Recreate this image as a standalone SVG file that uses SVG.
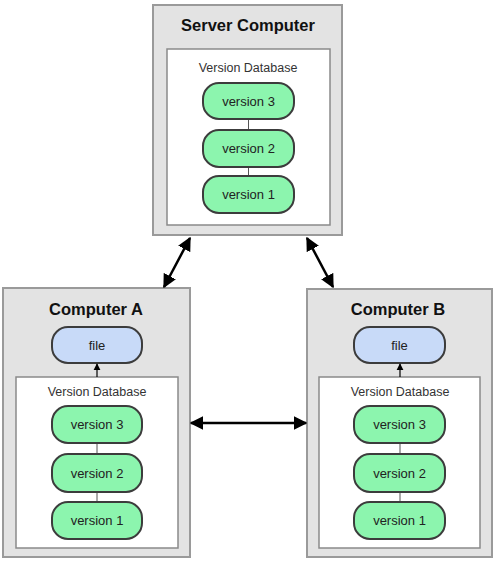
<svg xmlns="http://www.w3.org/2000/svg" width="497" height="564" viewBox="0 0 497 564">
<defs>
<marker id="ah" viewBox="0 0 10 10" refX="9" refY="5" markerWidth="5.5" markerHeight="5.5" orient="auto-start-reverse" markerUnits="strokeWidth">
<path d="M0,0 L10,5 L0,10 z" fill="#000"/>
</marker>
<marker id="ahs" viewBox="0 0 10 10" refX="9" refY="5" markerWidth="6" markerHeight="6" orient="auto" markerUnits="strokeWidth">
<path d="M0,0 L10,5 L0,10 z" fill="#000"/>
</marker>
<style>
.outer{fill:#e3e3e3;stroke:#9a9a9a;stroke-width:2}
.inner{fill:#fff;stroke:#8a8a8a;stroke-width:1.5}
.ver{fill:#8cf5ae;stroke:#3c3c3c;stroke-width:2}
.file{fill:#c8daf8;stroke:#3c3c3c;stroke-width:2}
.title{font-family:"Liberation Sans",Arial,sans-serif;font-weight:bold;font-size:16.5px;fill:#111;text-anchor:middle}
.db{font-family:"Liberation Sans",Arial,sans-serif;font-size:12.5px;fill:#333;text-anchor:middle}
.lbl{font-family:"Liberation Sans",Arial,sans-serif;font-size:13px;fill:#222;text-anchor:middle}
.link{stroke:#555;stroke-width:1}
.arr{stroke:#000;stroke-width:2.5;fill:none}
</style>
</defs>
<rect width="497" height="564" fill="#fff"/>

<g id="server">
<rect class="outer" x="153" y="5" width="189" height="230"/>
<text class="title" x="248" y="31">Server Computer</text>
<rect class="inner" x="167" y="49" width="163" height="176"/>
<text class="db" x="248" y="72">Version Database</text>
<line class="link" x1="248.5" y1="119" x2="248.5" y2="129"/>
<line class="link" x1="248.5" y1="167" x2="248.5" y2="176"/>
<g id="server-v3"><rect class="ver" x="203" y="83" width="91" height="36" rx="16"/><text class="lbl" x="248.5" y="105.5">version 3</text></g>
<g id="server-v2"><rect class="ver" x="203" y="130" width="91" height="37" rx="16"/><text class="lbl" x="248.5" y="153">version 2</text></g>
<g id="server-v1"><rect class="ver" x="203" y="176" width="91" height="37" rx="16"/><text class="lbl" x="248.5" y="199">version 1</text></g>
</g>

<g id="computerA">
<rect class="outer" x="3" y="288" width="187" height="269"/>
<text class="title" x="96" y="315">Computer A</text>
<rect class="inner" x="16" y="377" width="162" height="171"/>
<text class="db" x="97" y="396">Version Database</text>
<line class="link" x1="97" y1="443" x2="97" y2="454"/>
<line class="link" x1="97" y1="492" x2="97" y2="502"/>
<g id="A-file"><rect class="file" x="52" y="327" width="90" height="36" rx="16"/><text class="lbl" x="97" y="349.5">file</text></g>
<g id="A-v3"><rect class="ver" x="52" y="406" width="90" height="37" rx="16"/><text class="lbl" x="97" y="429">version 3</text></g>
<g id="A-v2"><rect class="ver" x="52" y="454" width="90" height="38" rx="16"/><text class="lbl" x="97" y="477.5">version 2</text></g>
<g id="A-v1"><rect class="ver" x="52" y="502" width="90" height="37" rx="16"/><text class="lbl" x="97" y="525">version 1</text></g>
</g>

<g id="computerB">
<rect class="outer" x="307" y="289" width="185" height="268"/>
<text class="title" x="398" y="315">Computer B</text>
<rect class="inner" x="319" y="377" width="161" height="171"/>
<text class="db" x="400" y="396">Version Database</text>
<line class="link" x1="400" y1="443" x2="400" y2="454"/>
<line class="link" x1="400" y1="492" x2="400" y2="502"/>
<g id="B-file"><rect class="file" x="354" y="327" width="91" height="36" rx="16"/><text class="lbl" x="399.5" y="349.5">file</text></g>
<g id="B-v3"><rect class="ver" x="354" y="406" width="91" height="37" rx="16"/><text class="lbl" x="399.5" y="429">version 3</text></g>
<g id="B-v2"><rect class="ver" x="354" y="454" width="91" height="38" rx="16"/><text class="lbl" x="399.5" y="477.5">version 2</text></g>
<g id="B-v1"><rect class="ver" x="354" y="502" width="91" height="37" rx="16"/><text class="lbl" x="399.5" y="525">version 1</text></g>
</g>

<g id="connectors">
<line class="arr" x1="190" y1="238" x2="164" y2="287" marker-start="url(#ah)" marker-end="url(#ah)"/>
<line class="arr" x1="307" y1="238" x2="333" y2="287" marker-start="url(#ah)" marker-end="url(#ah)"/>
<line class="arr" x1="191" y1="423" x2="306" y2="423" marker-start="url(#ah)" marker-end="url(#ah)"/>
<line x1="97" y1="377" x2="97" y2="364" stroke="#000" stroke-width="1.2" marker-end="url(#ahs)"/>
<line x1="400" y1="377" x2="400" y2="364" stroke="#000" stroke-width="1.2" marker-end="url(#ahs)"/>
</g>
</svg>
